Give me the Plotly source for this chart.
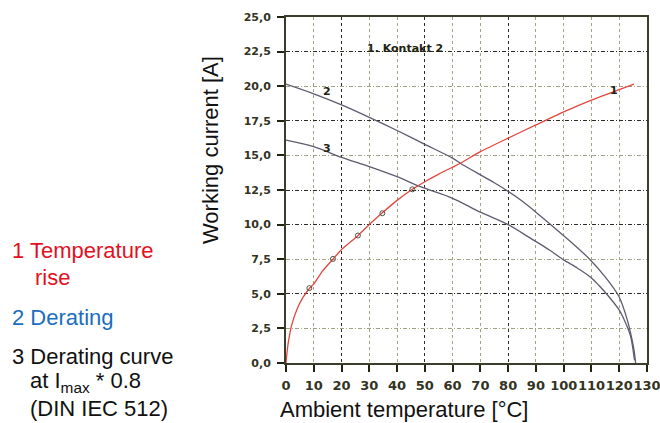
import plotly.graph_objects as go

# ---- data ----
temp_rise_x = [0, 0.5, 1, 2, 4, 6, 8.5, 10, 13, 16.9, 20, 25.9, 30, 34.7, 40, 45.5, 50, 55, 60, 62.8, 70, 80, 90, 100, 110, 120, 125.3]
temp_rise_y = [0, 1.0, 1.7, 2.7, 3.9, 4.7, 5.4, 5.7, 6.6, 7.5, 8.2, 9.2, 10.0, 10.85, 11.75, 12.55, 13.1, 13.65, 14.15, 14.43, 15.27, 16.25, 17.2, 18.15, 19.0, 19.75, 20.15]

marker_x = [8.4, 16.9, 25.9, 34.7, 45.5]
marker_y = [5.41, 7.52, 9.21, 10.82, 12.55]

derating_x = [0, 10, 20, 30, 40, 50, 60, 62.8, 70, 75, 80, 85, 90, 100, 109, 115, 119.9, 122.9, 124.1, 125.3, 125.9]
derating_y = [20.15, 19.45, 18.65, 17.75, 16.8, 15.8, 14.8, 14.43, 13.59, 13.02, 12.4, 11.7, 10.9, 9.2, 7.57, 6.2, 4.8, 3.12, 2.16, 0.96, 0]

derating08_x = [0, 10, 20, 30, 40, 48.4, 60, 70, 80, 88, 95, 100, 105, 109.7, 112.7, 115.7, 119.9, 122.3, 124.1, 125.5]
derating08_y = [16.1, 15.63, 14.86, 14.19, 13.46, 12.74, 11.9, 10.9, 10.0, 9.02, 8.15, 7.45, 6.85, 6.2, 5.6, 4.93, 3.85, 2.89, 1.92, 0.2]

x_ticks = [0, 10, 20, 30, 40, 50, 60, 70, 80, 90, 100, 110, 120, 130]
y_ticks = [0, 2.5, 5, 7.5, 10, 12.5, 15, 17.5, 20, 22.5, 25]
x_ticktext = [str(v) for v in x_ticks]
y_ticktext = ["0,0", "2,5", "5,0", "7,5", "10,0", "12,5", "15,0", "17,5", "20,0", "22,5", "25,0"]

# dark grid lines (overlay axes)
x_dark_grid = [20, 50, 80]
y_dark_grid = [5, 10, 12.5, 17.5, 22.5]

curve_labels = ["1", "2", "3"]
curve_label_x = [118.1, 14.7, 14.7]
curve_label_y = [19.67, 19.6, 15.5]

# ---- figure ----
fig = go.Figure()

fig.add_trace(go.Scatter(x=derating_x, y=derating_y, mode="lines",
                         line=dict(color="#5c5c6e", width=1.3, shape="spline", smoothing=0.8),
                         showlegend=False))
fig.add_trace(go.Scatter(x=derating08_x, y=derating08_y, mode="lines",
                         line=dict(color="#5c5c6e", width=1.3, shape="spline", smoothing=0.8),
                         showlegend=False))
fig.add_trace(go.Scatter(x=temp_rise_x, y=temp_rise_y, mode="lines",
                         line=dict(color="#e2473f", width=1.3, shape="spline", smoothing=0.6),
                         showlegend=False))
fig.add_trace(go.Scatter(x=marker_x, y=marker_y, mode="markers",
                         marker=dict(symbol="circle-open", size=5, color="#555544",
                                     line=dict(width=1)), showlegend=False))
# invisible trace for overlay axes
fig.add_trace(go.Scatter(x=[0], y=[0], xaxis="x2", yaxis="y2", mode="markers",
                         marker=dict(opacity=0), showlegend=False, hoverinfo="skip"))

xtickfont = dict(family="DejaVu Sans", size=13, color="#333322", weight="bold")
ytickfont = dict(family="DejaVu Sans", size=11, color="#333322", weight="bold")

fig.update_layout(
    width=660, height=423,
    margin=dict(l=286, r=13, t=17, b=60, autoexpand=False),
    paper_bgcolor="white", plot_bgcolor="white",
    xaxis=dict(range=[0, 130], tickvals=x_ticks, ticktext=x_ticktext, tickangle=0,
               ticklabeloverflow="allow", automargin=False,
               showgrid=True, gridcolor="#a3a383", griddash="3px,3px", gridwidth=1.2,
               showline=True, linecolor="#3c3c2c", linewidth=2, mirror=True,
               ticks="outside", ticklen=7, tickwidth=2, tickcolor="#222211",
               tickfont=xtickfont, zeroline=False, ticklabelstandoff=2),
    yaxis=dict(range=[0, 25], tickvals=y_ticks, ticktext=y_ticktext,
               ticklabeloverflow="allow", automargin=False,
               showgrid=True, gridcolor="#a3a383", griddash="4px,2px,1px,2px", gridwidth=1.2,
               showline=True, linecolor="#3c3c2c", linewidth=2, mirror=True,
               ticks="outside", ticklen=7, tickwidth=2, tickcolor="#222211",
               tickfont=ytickfont, zeroline=False, ticklabelstandoff=4),
    xaxis2=dict(range=[0, 130], overlaying="x", tickvals=x_dark_grid, showticklabels=False,
                showgrid=True, gridcolor="#2a2a22", griddash="3px,3px", gridwidth=1,
                showline=False, zeroline=False, ticks="", automargin=False),
    yaxis2=dict(range=[0, 25], overlaying="y", tickvals=y_dark_grid, showticklabels=False,
                showgrid=True, gridcolor="#2a2a22", griddash="4px,2px,1px,2px", gridwidth=1,
                showline=False, zeroline=False, ticks="", automargin=False),
    font=dict(family="Liberation Sans"),
)

annotations = []
for t, cx, cy in zip(curve_labels, curve_label_x, curve_label_y):
    annotations.append(dict(x=cx, y=cy, xref="x", yref="y", text=t, showarrow=False,
                            font=dict(family="DejaVu Sans", size=11, color="#222211", weight="bold")))
annotations.append(dict(x=28.5, y=22.7, xref="x", yref="y", text="1. Kontakt 2", showarrow=False,
                        xanchor="left", font=dict(family="DejaVu Sans", size=11, color="#222211", weight="bold")))

def px_x(p):
    return (p - 286) / (660 - 286 - 13)

def px_y(p):
    return 1 - (p - 17) / (423 - 17 - 60)

big = 22
annotations.append(dict(x=px_x(210), y=px_y(150), xref="paper", yref="paper", text="Working current [A]",
                        textangle=-90, xanchor="center", yanchor="middle", showarrow=False,
                        font=dict(size=big, color="#111111")))
annotations.append(dict(x=px_x(404), y=px_y(409), xref="paper", yref="paper", text="Ambient temperature [°C]",
                        xanchor="center", yanchor="middle", showarrow=False,
                        font=dict(size=big, color="#111111")))

left_lines = [
    ("1 Temperature", 10, 250, "#e3101e"),
    ("rise", 33, 277, "#e3101e"),
    ("2 Derating", 10, 317, "#1b6ebe"),
    ("3 Derating curve", 10, 356, "#111111"),
    ("at I<sub>max</sub> * 0.8", 28, 382, "#111111"),
    ("(DIN IEC 512)", 28, 408, "#111111"),
]
for txt, lx, ly, col in left_lines:
    annotations.append(dict(x=px_x(lx), y=px_y(ly), xref="paper", yref="paper", text=txt,
                            xanchor="left", yanchor="middle", showarrow=False,
                            font=dict(size=big, color=col)))

fig.update_layout(annotations=annotations)

fig.write_html("out.html", config={"displayModeBar": False},
               post_script="document.body.style.margin='0';document.body.style.overflow='hidden';")
